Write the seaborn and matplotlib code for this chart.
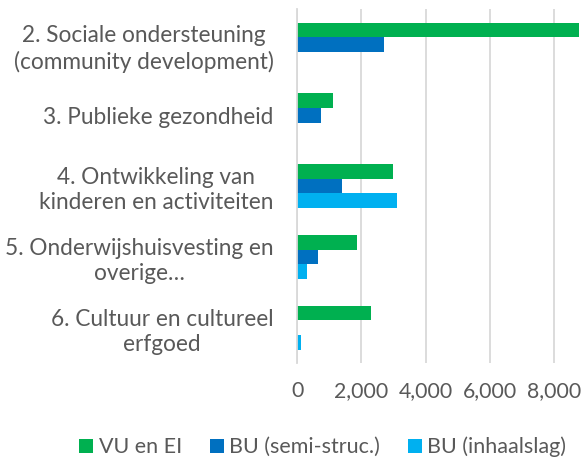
import matplotlib

matplotlib.use("Agg")
import matplotlib.pyplot as plt
import pandas as pd
import seaborn as sns

categorieen = [
    "2. Sociale ondersteuning\n(community development)",
    "3. Publieke gezondheid",
    "4. Ontwikkeling van\nkinderen en activiteiten",
    "5. Onderwijshuisvesting en\noverige…",
    "6. Cultuur en cultureel\nerfgoed",
]
reeksen = ["VU en EI", "BU (semi-struc.)", "BU (inhaalslag)"]
vu_en_ei = [8770, 1110, 2975, 1855, 2310]
bu_semi = [2705, 760, 1400, 655, 0]
bu_inhaal = [0, 0, 3100, 300, 115]
kleuren = ["#00B050", "#0070C0", "#00B0F0"]
xticks = [0, 2000, 4000, 6000, 8000]

rows = []
for naam, waarden in zip(reeksen, [vu_en_ei, bu_semi, bu_inhaal]):
    for cat, v in zip(categorieen, waarden):
        rows.append({"categorie": cat, "reeks": naam, "waarde": v})
df = pd.DataFrame(rows)

sns.set_theme(style="white")
plt.rcParams["font.family"] = ["Lato", "DejaVu Sans"]
tekst = "#595959"

fig = plt.figure(figsize=(5.86, 4.58), dpi=100)
ax = fig.add_axes([0.507, 0.207, 0.493, 0.773])

sns.barplot(
    data=df, y="categorie", x="waarde", hue="reeks",
    hue_order=reeksen, order=categorieen, palette=kleuren,
    orient="h", width=0.62, linewidth=0, saturation=1, ax=ax,
)

ax.set_xlim(0, 9000)
ax.set_xticks(xticks)
ax.set_xticklabels([f"{t:,}" for t in xticks])
ax.grid(axis="x", color="#D9D9D9", linewidth=1.3)
ax.set_axisbelow(True)
for s in ["top", "right", "bottom"]:
    ax.spines[s].set_visible(False)
ax.spines["left"].set_color("#D9D9D9")
ax.spines["left"].set_linewidth(1.3)
ax.set_xlabel("")
ax.set_ylabel("")
ax.tick_params(axis="y", length=0, pad=17, labelsize=16.3, labelcolor=tekst)
ax.tick_params(axis="x", length=0, pad=13, labelsize=15.3, labelcolor=tekst)
for lbl in ax.get_yticklabels():
    lbl.set_multialignment("center")
    lbl.set_linespacing(1.25)

ax.legend_.remove()
handles, labels = ax.get_legend_handles_labels()
fig.legend(
    handles, labels, loc="center", bbox_to_anchor=(0.551, 0.024), ncol=3,
    frameon=False, fontsize=15.5, labelcolor=tekst, handlelength=0.65,
    handleheight=0.65, handletextpad=0.25, columnspacing=1.3,
)

fig.savefig("out.png", dpi=100)
